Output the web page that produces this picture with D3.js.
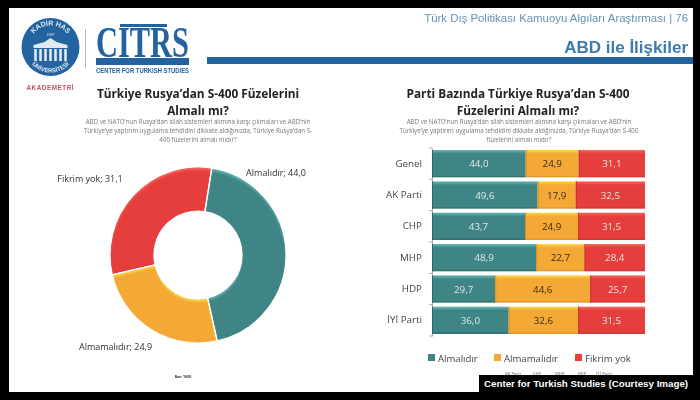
<!DOCTYPE html>
<html><head><meta charset="utf-8">
<script src="https://cdn.jsdelivr.net/npm/d3@7"></script>
<style>
html,body{margin:0;padding:0;background:#000;width:700px;height:400px;overflow:hidden}
svg{display:block}
.soft{filter:blur(.55px)}
</style></head><body>
<svg id="c" width="700" height="400"></svg>
<script>
const answers = ["Almalıdır","Almamalıdır","Fikrim yok"];
const overall = [44.0,24.9,31.1];
const parties = ["Genel","AK Parti","CHP","MHP","HDP","İYİ Parti"];
const almalidir = [44.0,49.6,43.7,48.9,29.7,36.0];
const almamalidir = [24.9,17.9,24.9,22.7,44.6,32.6];
const fikrimYok = [31.1,32.5,31.5,28.4,25.7,31.5];
const colors = ["#3f8585","#f4a836","#e63e3c"];
const lightColors = ["#62b8b5","#fbd83f","#f4675c"];
const darkColors = ["#2c6666","#d98f25","#c83230"];
const fmt = v => v.toFixed(1).replace(".",",");

const svg = d3.select("#c");
svg.append("rect").attr("width",700).attr("height",400).attr("fill","#000");
const page = svg.append("g").attr("class","soft");
page.append("rect").attr("x",9).attr("y",8).attr("width",684).attr("height",384).attr("fill","#fff");

const defs = svg.append("defs");
colors.forEach((c,i)=>{
  const g = defs.append("linearGradient").attr("id","bar"+i).attr("x1",0).attr("x2",0).attr("y1",0).attr("y2",1);
  g.append("stop").attr("offset",0).attr("stop-color",lightColors[i]);
  g.append("stop").attr("offset",.14).attr("stop-color",c);
  g.append("stop").attr("offset",.92).attr("stop-color",c);
  g.append("stop").attr("offset",1).attr("stop-color",darkColors[i]);
});
defs.append("filter").attr("id","bl").append("feGaussianBlur").attr("stdDeviation",1);

const T = (x,y,s,o={}) => page.append("text").attr("x",x).attr("y",y).text(s)
  .attr("text-anchor",o.a||"middle").attr("font-family",o.f||"'Open Sans'")
  .attr("font-size",o.s||10).attr("font-weight",o.w||400).attr("fill",o.c||"#333");

// header
T(688,22,"Türk Dış Politikası Kamuoyu Algıları Araştırması | 76",{a:"end",f:"'Liberation Sans'",s:11.4,c:"#6493b5"});
T(688,53,"ABD ile İlişkiler",{a:"end",f:"'Liberation Sans'",s:17,w:700,c:"#3d7cae"});
page.append("rect").attr("x",207).attr("y",57).attr("width",486).attr("height",7).attr("fill","#23639f");

// university seal
const seal = page.append("g").attr("transform","translate(50.5,47)");
seal.append("circle").attr("r",29).attr("fill","#23639f");
defs.append("path").attr("id","ringTop").attr("d","M-21.5,0A21.5,21.5 0 0 1 21.5,0");
defs.append("path").attr("id","ringBot").attr("d","M-25.5,0A25.5,25.5 0 0 0 25.5,0");
seal.append("text").attr("font-family","'Liberation Sans'").attr("font-size",7).attr("font-weight",700).attr("fill","#dfe9f2")
  .append("textPath").attr("href","#ringTop").attr("startOffset","50%").attr("text-anchor","middle").text("KADİR HAS");
seal.append("text").attr("font-family","'Liberation Sans'").attr("font-size",6).attr("font-weight",700).attr("fill","#dfe9f2")
  .append("textPath").attr("href","#ringBot").attr("startOffset","50%").attr("text-anchor","middle").text("ÜNİVERSİTESİ");
seal.append("text").attr("y",-11).attr("text-anchor","middle").attr("font-family","'Liberation Sans'").attr("font-size",3.6).attr("fill","#dfe9f2").text("1997");
seal.append("path").attr("fill","#dfe9f2").attr("d","M-17,-2L-6,-5L0,-9L6,-5L17,-2V1H-17Z");
d3.range(-15,16,5).forEach(dx=>seal.append("rect").attr("x",dx-1.3).attr("y",2).attr("width",2.6).attr("height",12).attr("fill","#dfe9f2"));
page.append("rect").attr("x",85).attr("y",29).attr("width",1).attr("height",39).attr("fill","#a8bfd2");

// CITRS logo
T(142.5,57,"CITRS",{f:"'Liberation Serif'",s:45,w:700,c:"#23639f"}).attr("textLength",93).attr("lengthAdjust","spacingAndGlyphs");
page.append("rect").attr("x",120).attr("y",24).attr("width",47).attr("height",3).attr("fill","#23639f");
page.append("rect").attr("x",96).attr("y",58).attr("width",93).attr("height",7).attr("fill","#23639f");
T(142.5,73,"CENTER FOR TURKISH STUDIES",{f:"'Liberation Sans'",s:6.4,w:700,c:"#23639f"}).attr("textLength",93).attr("lengthAdjust","spacingAndGlyphs");
T(50,90,"AKADEMETRİ",{f:"'Liberation Sans'",s:6.3,w:700,c:"#c2525a"}).attr("textLength",47);

// titles
T(198,97.5,"Türkiye Rusya’dan S-400 Füzelerini",{s:11.8,w:700,c:"#222"});
T(198,114.5,"Almalı mı?",{s:11.8,w:700,c:"#222"});
T(518,97.5,"Parti Bazında Türkiye Rusya’dan S-400",{s:11.8,w:700,c:"#222"});
T(518,114.5,"Füzelerini Almalı mı?",{s:11.8,w:700,c:"#222"});
const sub1 = ["ABD ve NATO’nun Rusya’dan silah sistemleri alımına karşı çıkmaları ve ABD’nin","Türkiye’ye yaptırım uygulama tehdidini dikkate aldığınızda, Türkiye Rusya’dan S-","400 füzelerini almalı mıdır?"];
const sub2 = ["ABD ve NATO’nun Rusya’dan silah sistemleri alımına karşı çıkmaları ve ABD’nin","Türkiye’ye yaptırım uygulama tehdidini dikkate aldığınızda, Türkiye Rusya’dan S-400","füzelerini almalı mıdır?"];
sub1.forEach((s,i)=>T(198,124+i*9,s,{s:6.2,c:"#777"}));
sub2.forEach((s,i)=>T(519,123.5+i*9,s,{s:6.2,c:"#777"}));

// donut
const cx=198, cy=255;
const pie = d3.pie().sort(null).startAngle(9*Math.PI/180).endAngle(369*Math.PI/180);
const arc = d3.arc().innerRadius(44).outerRadius(88);
const donut = page.append("g").attr("transform",`translate(${cx},${cy})`);
pie(overall).forEach((d,i)=>{
  defs.append("clipPath").attr("id","sl"+i).attr("transform",`translate(${cx},${cy})`).append("path").attr("d",arc(d));
  const g = page.append("g").attr("clip-path",`url(#sl${i})`);
  const inner = g.append("g").attr("transform",`translate(${cx},${cy})`);
  inner.append("path").attr("d",arc(d)).attr("fill",lightColors[i]);
  inner.append("path").attr("d",arc(d)).attr("fill",colors[i]).attr("transform","translate(0,2.5)").attr("filter","url(#bl)");
  inner.append("path").attr("d",arc(d)).attr("fill","none").attr("stroke",darkColors[i]).attr("stroke-width",1.4).attr("opacity",.55);
});
donut.raise();
donut.selectAll("path").data(pie(overall)).join("path")
  .attr("d",arc).attr("fill","none").attr("stroke","#fff").attr("stroke-width",1.2);
T(276,176,`${answers[0]}; ${fmt(overall[0])}`,{s:9});
T(115.5,350,`${answers[1]}; ${fmt(overall[1])}`,{s:9});
T(90,182,`${answers[2]}; ${fmt(overall[2])}`,{s:9});
T(183,378,"Baz: 1000",{s:3.6,w:700,c:"#333"});

// stacked bars
const rows = parties.map((p,i)=>[almalidir[i],almamalidir[i],fikrimYok[i]]);
const x = d3.scaleLinear().domain([0,100]).range([432,645]);
const y = d3.scaleBand().domain(parties).range([148,336]).paddingInner(.13).paddingOuter(.065);
const axis = d3.axisLeft(y).tickSize(0).tickPadding(10);
const ag = page.append("g").attr("transform","translate(432,0)").call(axis);
ag.select(".domain").attr("stroke","#aaa");
ag.selectAll("text").attr("font-family","'Open Sans'").attr("font-size",9.8).attr("fill","#444");
const tickPos = d3.range(parties.length+1).map(i=>148+i*188/parties.length);
page.selectAll(".tk").data(tickPos).join("line").attr("x1",429).attr("x2",432).attr("y1",d=>d).attr("y2",d=>d).attr("stroke","#aaa");
rows.forEach((r,ri)=>{
  let acc=0;
  r.forEach((v,k)=>{
    const x0=x(acc), x1=Math.min(x(acc+v),645);
    page.append("rect").attr("x",x0).attr("y",y(parties[ri])).attr("width",x1-x0).attr("height",y.bandwidth()).attr("fill",`url(#bar${k})`);
    page.append("rect").attr("x",x0).attr("y",y(parties[ri])).attr("width",1).attr("height",y.bandwidth()).attr("fill",darkColors[k]);
    T((x0+x1)/2,y(parties[ri])+y.bandwidth()/2+3.6,fmt(v),{s:9.8,c:k===1?"#3a2a10":"#dfe9e6"});
    acc+=v;
  });
});

// legend
[[428,438],[494,504],[575,585]].forEach((p,i)=>{
  page.append("rect").attr("x",p[0]).attr("y",354).attr("width",7).attr("height",7).attr("fill",colors[i]);
  T(p[1],361.5,answers[i],{a:"start",s:9.6,c:"#444"});
});
// faint row under the legend, cut by the caption
[[513,"AK Parti"],[537,"CHP"],[560,"MHP"],[582,"HDP"],[604,"İYİ Parti"]].forEach(p=>T(p[0],375,p[1],{s:4,w:700,c:"#999"}));

// caption
svg.append("rect").attr("x",479).attr("y",375).attr("width",221).attr("height",25).attr("fill","#000");
svg.append("text").attr("x",484).attr("y",387).text("Center for Turkish Studies (Courtesy Image)")
  .attr("font-family","'Liberation Sans'").attr("font-weight",700).attr("font-size",9.75).attr("fill","#fff");
</script>
</body></html>
